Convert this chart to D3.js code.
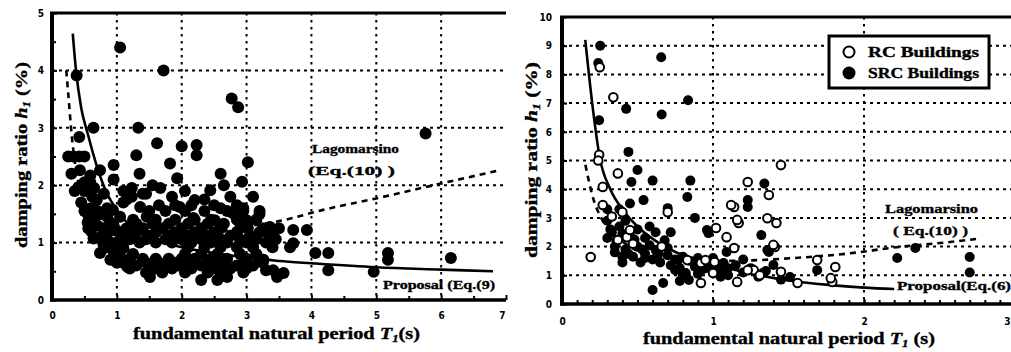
<!DOCTYPE html>
<html>
<head>
<meta charset="utf-8">
<script src="https://cdn.jsdelivr.net/npm/d3@7/dist/d3.min.js"></script>
<style>
  html, body { margin: 0; padding: 0; background: #fff; }
  svg { display: block; }
  .tick text { font-family: "Liberation Sans Narrow", "DejaVu Sans Condensed", "Liberation Sans", sans-serif; font-weight: bold; font-size: 10px; fill: #000; }
  .serif { font-family: "Liberation Serif", "DejaVu Serif", serif; font-weight: bold; fill: #000; stroke: #000; stroke-width: 0.35px; }
</style>
</head>
<body>
<svg id="chart" width="1011" height="352"></svg>
<script>
// ---------- Left panel: all buildings (period T1 in s, damping h1 in %) ----------
const leftT = [
  1.05, 1.72, 2.77, 2.87, 0.38, 0.64, 1.33, 0.42, 1.62, 2.00, 2.23, 2.23, 1.30, 3.02, 1.82, 2.60,
  0.25, 0.33, 0.42, 0.50, 5.76, 0.95, 0.95, 0.74, 0.43, 0.59, 0.41, 0.59, 1.23, 1.23, 1.67, 0.69,
  0.94, 1.36, 1.46, 0.56, 0.64, 0.79, 0.74, 0.90, 1.16, 1.51, 2.93, 1.93, 2.44, 2.75, 3.10, 2.20,
  1.97, 2.60, 2.79, 2.18, 2.51, 3.02, 3.02, 3.36, 3.72, 3.93, 2.60, 2.70, 3.30, 3.47, 3.67, 3.00,
  3.41, 3.26, 3.57, 3.41, 3.72, 4.06, 4.26, 4.26, 5.18, 5.18, 4.96, 6.15,
  0.30, 0.35, 0.45, 0.50, 0.55, 0.65, 0.70, 0.80, 0.85, 0.60, 0.50, 0.65, 0.80, 0.85, 0.75, 0.90,
  1.00, 1.05, 1.10, 1.00, 0.95, 1.05, 1.10,
  1.50, 1.75, 2.05, 2.35, 2.70, 2.95, 3.20,
  1.25, 1.60, 1.90, 2.20, 2.45, 2.85, 3.15,
  1.15, 1.40, 1.70, 2.00, 2.30, 2.60, 2.90, 3.25, 3.50,
  1.20, 1.50, 1.80, 2.10, 2.40, 2.75, 3.05, 3.35,
  1.10, 1.35, 1.60, 1.85, 2.15, 2.45, 2.70, 3.00, 3.30,
  1.25, 2.05, 2.30, 2.55, 2.90, 3.15,
  1.20, 1.40, 1.60, 1.80, 2.00, 2.20, 2.45, 2.70, 3.00, 3.20,
  1.30, 1.55, 1.75, 1.95, 2.30, 2.55, 2.85, 3.10,
  1.45, 1.70, 2.05, 2.40, 2.60, 2.95,
  2.30, 2.55,
  1.30, 1.55, 1.80, 2.10, 2.40, 2.65, 3.00,
  1.05, 1.30, 1.60, 1.90, 2.20, 2.50, 2.85, 3.20,
  1.20, 1.45, 1.75, 2.00, 2.30, 2.60, 2.90, 3.15, 3.45,
  2.10, 2.35, 2.60, 2.85, 3.10, 3.40,
  1.10, 1.45, 1.65, 1.90, 2.10, 2.40, 2.65, 2.95, 3.25,
  1.20, 1.60, 1.85, 2.15, 2.50, 2.75, 3.00,
  1.65, 1.90, 2.15, 2.50, 2.85,
  0.55, 0.70, 0.60, 0.75, 0.85, 0.95, 0.90, 0.80, 1.00, 0.50, 0.62, 1.15, 1.40,
  1.10, 1.45, 1.55, 2.05, 2.35, 2.65, 1.85, 2.95, 3.20, 1.35
];
const leftH = [
  4.40, 4.00, 3.51, 3.36, 3.91, 3.00, 3.00, 2.84, 2.73, 2.68, 2.70, 2.52, 2.52, 2.40, 2.38, 2.20,
  2.50, 2.50, 2.50, 2.50, 2.90, 2.35, 2.10, 2.26, 2.26, 2.17, 1.97, 2.05, 1.95, 1.80, 1.95, 1.74,
  1.57, 1.62, 1.45, 1.25, 1.07, 0.99, 0.82, 0.70, 0.58, 0.40, 2.06, 2.12, 1.91, 1.80, 1.80, 1.74,
  1.62, 1.60, 1.51, 1.43, 1.39, 1.36, 1.25, 1.27, 1.22, 1.22, 0.70, 0.40, 0.52, 0.40, 0.92, 1.39,
  1.10, 0.70, 0.47, 0.52, 0.99, 0.82, 0.82, 0.52, 0.82, 0.70, 0.49, 0.73,
  2.20, 1.90, 1.70, 1.55, 1.50, 1.40, 1.30, 1.25, 1.15, 1.60, 1.90, 1.95, 1.85, 1.60, 1.50, 1.35,
  1.20, 1.45, 1.70, 1.00, 0.85, 0.75, 0.90,
  1.55, 1.55, 1.55, 1.55, 1.55, 1.55, 1.55,
  1.40, 1.40, 1.40, 1.40, 1.40, 1.40, 1.40,
  1.25, 1.25, 1.25, 1.25, 1.25, 1.25, 1.25, 1.25, 1.25,
  1.12, 1.12, 1.12, 1.12, 1.12, 1.12, 1.12, 1.12,
  1.00, 1.00, 1.00, 1.00, 1.00, 1.00, 1.00, 1.00, 1.00,
  0.80, 0.80, 0.80, 0.80, 0.80, 0.80,
  0.72, 0.72, 0.72, 0.72, 0.72, 0.72, 0.72, 0.72, 0.72, 0.72,
  0.60, 0.60, 0.60, 0.60, 0.60, 0.60, 0.60, 0.60,
  0.48, 0.48, 0.48, 0.48, 0.48, 0.48,
  0.35, 0.35,
  1.33, 1.33, 1.33, 1.33, 1.33, 1.33, 1.33,
  1.18, 1.18, 1.18, 1.18, 1.18, 1.18, 1.18, 1.18,
  1.06, 1.06, 1.06, 1.06, 1.06, 1.06, 1.06, 1.06, 1.06,
  0.92, 0.92, 0.92, 0.92, 0.92, 0.92,
  0.65, 0.65, 0.65, 0.65, 0.65, 0.65, 0.65, 0.65, 0.65,
  0.55, 0.55, 0.55, 0.55, 0.55, 0.55, 0.55,
  1.65, 1.65, 1.65, 1.65, 1.65,
  1.35, 1.55, 1.20, 1.10, 1.45, 1.30, 1.00, 0.90, 0.65, 2.05, 1.80, 1.75, 1.85,
  1.90, 1.85, 2.00, 1.90, 1.75, 2.00, 1.80, 1.60, 1.50, 2.20
];

// Left panel curves
const leftPropT = [0.32, 0.37, 0.45, 0.55, 0.70, 0.85, 1.00, 1.20, 1.50, 2.00, 2.50, 3.00, 3.50, 4.00, 5.00, 6.00, 6.80];
const leftPropH = [4.64, 4.00, 3.35, 2.90, 2.30, 1.85, 1.57, 1.30, 1.10, 0.92, 0.82, 0.74, 0.68, 0.64, 0.57, 0.53, 0.50];
const leftLagoT = [0.22, 0.25, 0.31, 0.40, 0.50, 0.70, 1.00, 1.50, 2.00, 2.50, 3.00, 3.57, 4.18, 5.00, 6.00, 6.90];
const leftLagoH = [4.00, 3.60, 2.80, 2.10, 1.75, 1.38, 1.15, 1.05, 1.08, 1.18, 1.28, 1.39, 1.57, 1.77, 2.03, 2.26];

// ---------- Right panel: RC and SRC buildings ----------
const srcT = [
  0.24, 0.253, 0.657, 0.835, 0.425, 0.66, 0.246, 0.44, 0.50, 0.60, 0.46, 0.85, 0.54, 0.83, 0.45, 0.70,
  0.88, 0.60, 0.67, 0.40, 0.35, 0.52, 0.62, 0.68, 0.77, 0.82, 0.75, 0.84, 0.96, 1.34, 1.23, 1.23,
  1.32, 1.37, 0.97, 1.69, 1.33, 1.07, 1.09, 1.51, 2.22, 2.34, 2.70, 2.70, 1.36, 1.40,
  0.30, 0.33, 0.38, 0.42, 0.36, 0.45, 0.50, 0.55, 0.58, 0.50, 0.42, 0.47, 0.55, 0.60, 0.65, 0.70,
  0.72, 0.78, 0.80, 0.88, 0.90, 0.95, 1.00, 1.05, 1.10, 1.15, 1.20, 1.25, 1.30, 0.62, 0.30, 0.38,
  0.32, 0.40, 0.48, 0.35, 0.44, 0.53, 0.58, 0.64, 0.70, 0.75, 0.85, 0.90, 0.93, 1.00, 1.05, 1.10,
  1.20, 1.35, 1.45, 0.78, 0.80, 0.72, 0.30, 0.40, 0.55
];
const srcH = [
  8.40, 9.00, 8.60, 7.10, 6.80, 6.60, 6.40, 5.30, 4.67, 4.30, 4.25, 4.30, 3.62, 3.73, 3.50, 3.34,
  3.00, 0.49, 0.73, 1.45, 1.80, 1.45, 1.88, 2.22, 1.53, 1.08, 1.18, 0.84, 2.58, 4.20, 3.62, 3.38,
  2.40, 1.81, 2.47, 1.18, 1.08, 1.43, 1.81, 0.94, 1.60, 1.95, 1.64, 1.10, 1.88, 1.36,
  2.90, 2.50, 2.70, 2.90, 2.20, 2.40, 2.60, 2.30, 2.70, 2.00, 1.90, 1.65, 1.75, 1.55, 1.45, 1.70,
  1.35, 1.25, 1.65, 1.30, 1.05, 1.25, 1.60, 1.20, 1.00, 1.35, 1.55, 1.25, 0.95, 2.50, 3.30, 3.30,
  2.60, 2.45, 2.25, 2.00, 1.75, 1.90, 2.05, 1.75, 1.95, 1.55, 1.50, 1.60, 1.20, 1.35, 0.95, 1.25,
  1.10, 1.15, 0.85, 0.80, 1.00, 2.50, 2.30, 1.65, 1.60
];
const rcT = [
  0.25, 0.34, 0.246, 0.24, 0.37, 0.27, 0.27, 0.70, 0.40, 0.33, 0.19, 0.43, 0.47, 0.66, 0.83, 0.92,
  0.93, 1.45, 1.23, 1.37, 1.14, 1.17, 1.36, 1.42, 1.41, 1.02, 1.09, 1.14, 1.69, 1.81, 1.79, 1.56,
  1.45, 1.27, 1.16, 1.00, 0.92, 1.40, 1.78, 1.31, 1.12, 1.16, 1.23, 1.01, 0.95, 0.37, 0.45
];
const rcH = [
  8.25, 7.20, 5.20, 5.00, 4.55, 4.08, 3.45, 3.20, 3.20, 3.05, 1.64, 2.33, 2.10, 2.00, 1.53, 0.73,
  1.45, 4.84, 4.25, 3.80, 3.38, 2.82, 2.99, 2.82, 1.99, 2.65, 2.33, 1.95, 1.53, 1.29, 0.77, 0.73,
  1.12, 1.18, 0.77, 1.08, 1.43, 2.06, 0.90, 1.00, 3.45, 2.93, 1.18, 1.46, 1.53, 2.23, 2.58
];

// Right panel curves
const rightPropT = [0.154, 0.20, 0.25, 0.32, 0.40, 0.50, 0.62, 0.80, 1.00, 1.20, 1.50, 1.80, 2.00, 2.20];
const rightPropH = [9.20, 7.00, 5.10, 4.00, 3.30, 2.70, 2.20, 1.70, 1.40, 1.12, 0.82, 0.65, 0.57, 0.52];
const rightLagoT = [0.155, 0.20, 0.27, 0.35, 0.45, 0.60, 0.80, 1.00, 1.25, 1.53, 1.93, 2.17, 2.57, 2.75];
const rightLagoH = [4.85, 3.80, 2.90, 2.40, 2.00, 1.70, 1.55, 1.50, 1.52, 1.60, 1.78, 1.95, 2.16, 2.27];

// Tick values
const leftXTicks = [0, 1, 2, 3, 4, 5, 6, 7];
const leftYTicks = [0, 1, 2, 3, 4, 5];
const rightXTicks = [0, 1, 2, 3];
const rightYTicks = [0, 1, 2, 3, 4, 5, 6, 7, 8, 9, 10];

const svg = d3.select("#chart");
const zip = (a, b) => a.map((v, i) => [v, b[i]]);

function drawPanel(cfg) {
  const { x, y, g } = cfg;
  const [x0, x1] = x.range();
  const [y0, y1] = y.range();   // y0 bottom, y1 top
  const xEnd = Math.min(x1, cfg.clipRight);

  // dotted grid
  g.append("g").selectAll("line").data(cfg.gridX).join("line")
    .attr("x1", d => x(d)).attr("x2", d => x(d))
    .attr("y1", y1).attr("y2", y0)
    .attr("stroke", "#000").attr("stroke-width", 2)
    .attr("stroke-dasharray", "2.5,4.5");
  g.append("g").selectAll("line").data(cfg.gridY).join("line")
    .attr("x1", x0).attr("x2", xEnd)
    .attr("y1", d => y(d)).attr("y2", d => y(d))
    .attr("stroke", "#000").attr("stroke-width", 2)
    .attr("stroke-dasharray", "3,4");

  // minor ticks (inward)
  g.append("g").attr("transform", `translate(0,${y0})`)
    .call(d3.axisBottom(x).tickValues(cfg.minorX).tickFormat("").tickSize(-4).tickSizeOuter(0))
    .call(s => s.select(".domain").remove())
    .call(s => s.selectAll("line").attr("stroke-width", 2));
  g.append("g").attr("transform", `translate(${x0},0)`)
    .call(d3.axisLeft(y).tickValues(cfg.minorY).tickFormat("").tickSize(-4).tickSizeOuter(0))
    .call(s => s.select(".domain").remove())
    .call(s => s.selectAll("line").attr("stroke-width", 2));

  // major ticks and labels
  const xa = g.append("g").attr("transform", `translate(0,${y0})`)
    .call(d3.axisBottom(x).tickValues(cfg.xTicks).tickFormat(d3.format("d")).tickSize(-5).tickSizeOuter(0).tickPadding(cfg.xPad))
    .call(s => s.select(".domain").remove())
    .call(s => s.selectAll("line").attr("stroke-width", 2));
  // keep a label that falls on the window edge inside it
  xa.selectAll(".tick").filter(d => x(d) > cfg.clipRight - 4)
    .select("text").attr("text-anchor", "end").attr("dx", -(x(cfg.xTicks[cfg.xTicks.length - 1]) - cfg.clipRight) - 1);
  g.append("g").attr("transform", `translate(${x0},0)`)
    .call(d3.axisLeft(y).tickValues(cfg.yTicks).tickFormat(d3.format("d")).tickSize(-5).tickSizeOuter(0).tickPadding(cfg.yPad))
    .call(s => s.select(".domain").remove())
    .call(s => s.selectAll("line").attr("stroke-width", 2));

  // curves
  const line = d3.line().x(d => x(d[0])).y(d => y(d[1])).curve(d3.curveMonotoneX);
  g.append("path").datum(cfg.lago).attr("d", line)
    .attr("fill", "none").attr("stroke", "#000").attr("stroke-width", 2.6)
    .attr("stroke-dasharray", "6,5");
  g.append("path").datum(cfg.prop).attr("d", line)
    .attr("fill", "none").attr("stroke", "#000").attr("stroke-width", 2.6);

  // frame: left, bottom, top
  g.append("line").attr("x1", x0).attr("x2", x0).attr("y1", y1 - 1).attr("y2", y0 + 1.5)
    .attr("stroke", "#000").attr("stroke-width", 4);
  g.append("line").attr("x1", x0 - 2).attr("x2", xEnd).attr("y1", y0).attr("y2", y0)
    .attr("stroke", "#000").attr("stroke-width", 3.5);
  g.append("line").attr("x1", x0 - 2).attr("x2", xEnd).attr("y1", y1).attr("y2", y1)
    .attr("stroke", "#000").attr("stroke-width", 3);
}

function axisTitles(g, xt, yt) {
  const t = g.append("text").attr("class", "serif").attr("font-size", 16)
    .attr("x", xt.x).attr("y", xt.y).attr("textLength", xt.len).attr("lengthAdjust", "spacingAndGlyphs");
  t.append("tspan").text("fundamental natural period  ");
  t.append("tspan").attr("font-style", "italic").text("T");
  t.append("tspan").attr("font-style", "italic").attr("font-size", 10).attr("dy", 3).text("1");
  t.append("tspan").attr("dy", -3).text(xt.tail);

  const v = g.append("text").attr("class", "serif").attr("font-size", 16)
    .attr("transform", `translate(${yt.x},${yt.y}) rotate(-90)`)
    .attr("textLength", yt.len).attr("lengthAdjust", "spacingAndGlyphs");
  v.append("tspan").text("damping ratio  ");
  v.append("tspan").attr("font-style", "italic").text("h");
  v.append("tspan").attr("font-style", "italic").attr("font-size", 10).attr("dy", 3).text("1");
  v.append("tspan").attr("dy", -3).text(" (%)");
}

function note(g, x, y, len, str) {
  g.append("text").attr("class", "serif").attr("x", x).attr("y", y)
    .attr("font-size", 13).attr("textLength", len).attr("lengthAdjust", "spacingAndGlyphs").text(str);
}

// ---------- left panel ----------
const xL = d3.scaleLinear().domain([0, 7]).range([52, 506]);
const yL = d3.scaleLinear().domain([0, 5]).range([300, 13]);
const gL = svg.append("g");
drawPanel({
  x: xL, y: yL, g: gL, clipRight: 506,
  gridX: [1, 2, 3, 4, 5, 6], gridY: [1, 2, 3, 4],
  minorX: d3.range(0.5, 7, 1), minorY: d3.range(0.5, 5, 1),
  xTicks: leftXTicks, yTicks: leftYTicks, xPad: 12, yPad: 8,
  lago: zip(leftLagoT, leftLagoH), prop: zip(leftPropT, leftPropH)
});
gL.append("g").selectAll("circle").data(zip(leftT, leftH)).join("circle")
  .attr("cx", d => xL(d[0])).attr("cy", d => yL(d[1])).attr("r", 6)
  .attr("fill", "#000");

note(gL, 312, 153, 87, "Lagomarsino");
note(gL, 308, 175, 87, "(Eq.(10) )");
note(gL, 383, 289, 112, "Proposal (Eq.(9)");
axisTitles(gL, { x: 133, y: 339, len: 287, tail: "(s)" }, { x: 27, y: 248, len: 186 });

// ---------- right panel ----------
const xR = d3.scaleLinear().domain([0, 3]).range([562, 1015]);
const yR = d3.scaleLinear().domain([0, 10]).range([304, 17]);
const gR = svg.append("g");
drawPanel({
  x: xR, y: yR, g: gR, clipRight: 1011,
  gridX: [1, 2], gridY: [1, 2, 3, 4, 5, 6, 7, 8, 9],
  minorX: d3.range(0.1, 3, 0.1), minorY: [],
  xTicks: rightXTicks, yTicks: rightYTicks, xPad: 14, yPad: 10,
  lago: zip(rightLagoT, rightLagoH), prop: zip(rightPropT, rightPropH)
});
gR.append("g").selectAll("circle").data(zip(srcT, srcH)).join("circle")
  .attr("cx", d => xR(d[0])).attr("cy", d => yR(d[1])).attr("r", 5)
  .attr("fill", "#000");
gR.append("g").selectAll("circle").data(zip(rcT, rcH)).join("circle")
  .attr("cx", d => xR(d[0])).attr("cy", d => yR(d[1])).attr("r", 4.3)
  .attr("fill", "#fff").attr("stroke", "#000").attr("stroke-width", 2);

note(gR, 885, 213, 93, "Lagomarsino");
note(gR, 893, 235, 75, "( Eq.(10) )");
note(gR, 897, 290, 114, "Proposal(Eq.(6)");

// legend
const lg = gR.append("g");
lg.append("rect").attr("x", 829).attr("y", 36).attr("width", 160).attr("height", 52)
  .attr("fill", "#fff").attr("stroke", "#000").attr("stroke-width", 3);
lg.append("circle").attr("cx", 849).attr("cy", 52).attr("r", 5.5)
  .attr("fill", "#fff").attr("stroke", "#000").attr("stroke-width", 2);
lg.append("circle").attr("cx", 849).attr("cy", 73).attr("r", 6.5).attr("fill", "#000");
lg.append("text").attr("class", "serif").attr("font-size", 14).attr("x", 868).attr("y", 57)
  .attr("textLength", 111).attr("lengthAdjust", "spacingAndGlyphs").text("RC   Buildings");
lg.append("text").attr("class", "serif").attr("font-size", 14).attr("x", 868).attr("y", 78)
  .attr("textLength", 111).attr("lengthAdjust", "spacingAndGlyphs").text("SRC Buildings");

axisTitles(gR, { x: 643, y: 344, len: 292, tail: " (s)" }, { x: 537, y: 258, len: 196 });
</script>
</body>
</html>
